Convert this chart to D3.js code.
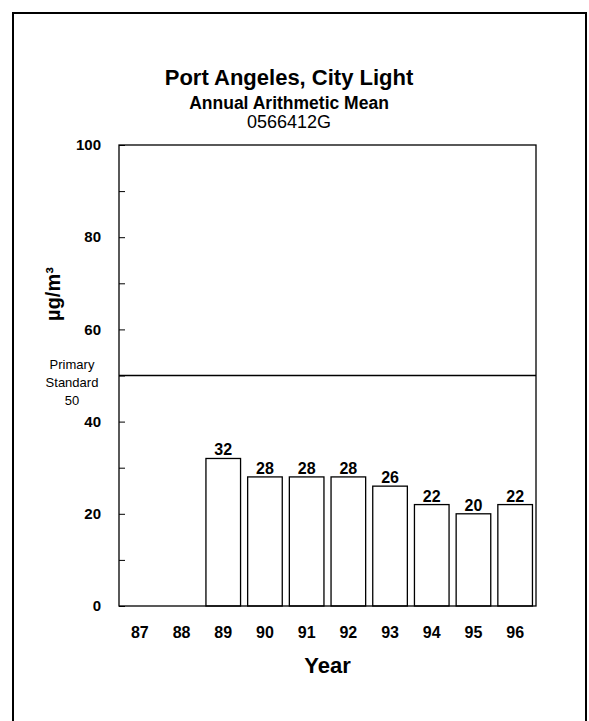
<!DOCTYPE html>
<html>
<head>
<meta charset="utf-8">
<script src="https://cdn.jsdelivr.net/npm/d3@7"></script>
<style>
  body { margin: 0; background: #fff; }
  text { font-family: Arial, "Liberation Sans", sans-serif; fill: #000; }
</style>
</head>
<body>
<div id="chart"></div>
<script>
// data
var years = ["87", "88", "89", "90", "91", "92", "93", "94", "95", "96"]
var means = [null, null, 32, 28, 28, 28, 26, 22, 20, 22]
var yTicks = [0, 20, 40, 60, 80, 100]
var primaryStandard = 50

var W = 589, H = 721
var margin = {top: 145, right: 53, bottom: 115, left: 119}
var width = W - margin.left - margin.right
var height = H - margin.top - margin.bottom

var svg = d3.select("#chart").append("svg")
    .attr("width", W)
    .attr("height", H)

// page frame
svg.append("path")
    .attr("d", "M13,722 L13,13 L586,13 L586,722")
    .attr("fill", "none")
    .attr("stroke", "#000")
    .attr("stroke-width", 2)

var g = svg.append("g")
    .attr("transform", "translate(" + margin.left + "," + margin.top + ")")

var x = d3.scaleBand().domain(years).range([0, width]).paddingInner(0.17).paddingOuter(0.085)
var y = d3.scaleLinear().domain([0, 100]).range([height, 0])

// titles
var cx = 289
svg.append("text").attr("x", cx).attr("y", 85).attr("text-anchor", "middle")
    .style("font-size", "22px").style("font-weight", "bold").text("Port Angeles, City Light")
svg.append("text").attr("x", cx).attr("y", 109).attr("text-anchor", "middle")
    .style("font-size", "17.5px").style("font-weight", "bold").text("Annual Arithmetic Mean")
svg.append("text").attr("x", cx).attr("y", 128).attr("text-anchor", "middle")
    .style("font-size", "18px").text("0566412G")

// bars
var data = years.map(function(d, i){ return {year: d, v: means[i]} }).filter(function(d){ return d.v != null })

g.selectAll(".bar").data(data).enter().append("rect")
    .attr("class", "bar")
    .attr("x", function(d){ return x(d.year) })
    .attr("y", function(d){ return y(d.v) })
    .attr("width", x.bandwidth())
    .attr("height", function(d){ return height - y(d.v) })
    .attr("fill", "#fff")
    .attr("stroke", "#000")
    .attr("stroke-width", 1.3)

g.selectAll(".val").data(data).enter().append("text")
    .attr("x", function(d){ return x(d.year) + x.bandwidth() / 2 })
    .attr("y", function(d){ return y(d.v) - 3 })
    .attr("text-anchor", "middle")
    .style("font-size", "16px").style("font-weight", "bold")
    .text(function(d){ return d.v })

// plot box
g.append("rect")
    .attr("width", width).attr("height", height)
    .attr("fill", "none").attr("stroke", "#000").attr("stroke-width", 1.3)

// y ticks, inward
var yAxis = d3.axisRight(y).tickValues(d3.range(0, 101, 10)).tickSize(6).tickFormat("")
g.append("g").call(yAxis).call(function(a){ a.select(".domain").remove() })

g.selectAll(".ylab").data(yTicks).enter().append("text")
    .attr("x", -18)
    .attr("y", function(d){ return y(d) })
    .attr("dy", "0.35em")
    .attr("text-anchor", "end")
    .style("font-size", "15px").style("font-weight", "bold")
    .text(function(d){ return d })

// primary standard line
g.append("line")
    .attr("x1", 0).attr("x2", width)
    .attr("y1", y(primaryStandard)).attr("y2", y(primaryStandard))
    .attr("stroke", "#000").attr("stroke-width", 1.3)

var ps = ["Primary", "Standard", String(primaryStandard)]
svg.selectAll(".ps").data(ps).enter().append("text")
    .attr("x", 72)
    .attr("y", function(d, i){ return 369 + i * 18 })
    .attr("text-anchor", "middle")
    .style("font-size", "13px")
    .text(function(d){ return d })

// x labels
g.selectAll(".xlab").data(years).enter().append("text")
    .attr("x", function(d){ return x(d) + x.bandwidth() / 2 })
    .attr("y", height + 32)
    .attr("text-anchor", "middle")
    .style("font-size", "16px").style("font-weight", "bold")
    .text(function(d){ return d })

svg.append("text")
    .attr("x", margin.left + width / 2)
    .attr("y", 673)
    .attr("text-anchor", "middle")
    .style("font-size", "22px").style("font-weight", "bold")
    .text("Year")

svg.append("text")
    .attr("transform", "translate(60,294) rotate(-90)")
    .attr("text-anchor", "middle")
    .style("font-size", "20px").style("font-weight", "bold")
    .text("µg/m³")
</script>
</body>
</html>
